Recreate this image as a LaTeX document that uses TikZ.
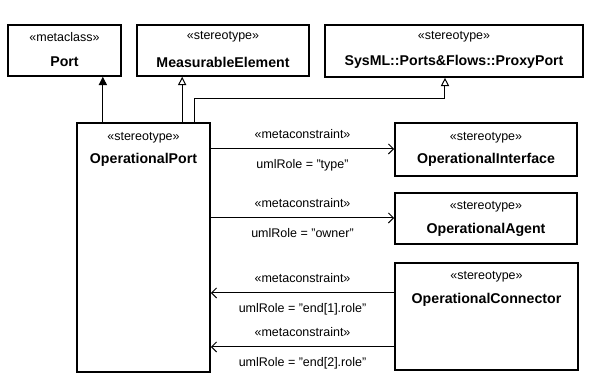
\documentclass[tikz,border=0pt]{standalone}
\usepackage{fontspec}
\setmainfont{Liberation Sans}
\usetikzlibrary{positioning, arrows.meta}

\tikzset{
  classbox/.style={draw, line width=1pt, inner sep=0pt},
  stereo/.style={font=\fontsize{7.5}{8}\selectfont, inner sep=0pt},
  cname/.style={font=\fontsize{8.5}{9}\selectfont\bfseries, inner sep=0pt},
  elabel/.style={font=\fontsize{7.5}{8}\selectfont, inner sep=0pt},
  genopen/.style={draw, line width=0.6pt, -{Triangle[open, length=5pt, width=5pt]}},
  genfill/.style={draw, line width=0.6pt, -{Triangle[length=5pt, width=5pt]}},
  assoc/.style={draw, line width=0.6pt, -{Straight Barb[length=3pt, width=6pt]}}
}

\begin{document}
\begin{tikzpicture}[x=0.6pt, y=-0.6pt]
  \useasboundingbox (0,0) rectangle (597,387);
  % top row
  \node[classbox, minimum width=113*0.6pt, minimum height=51*0.6pt] (port) at (64.5,50.5) {};
  \node[stereo] (portst) at (64.5,37) {«metaclass»};
  \node[cname] (portnm) at (64.5,62) {Port};
  \node[classbox, minimum width=172*0.6pt, minimum height=51*0.6pt] (meas) at (223,50.5) {};
  \node[stereo] (measst) at (223,37) {«stereotype»};
  \node[cname] (measnm) at (223,62) {MeasurableElement};
  \node[classbox, minimum width=258*0.6pt, minimum height=52*0.6pt] (proxy) at (454,51) {};
  \node[stereo] (proxyst) at (454,37) {«stereotype»};
  \node[cname] (proxynm) at (454,62) {SysML::Ports\&Flows::ProxyPort};
  % operational port
  \node[classbox, minimum width=133*0.6pt, minimum height=249*0.6pt] (opport) at (143.5,247.5) {};
  \node[stereo] (opportst) at (143.5,138) {«stereotype»};
  \node[cname] (opportnm) at (143.5,160) {OperationalPort};
  % right column
  \node[classbox, minimum width=182*0.6pt, minimum height=53*0.6pt] (opif) at (486,149.5) {};
  \node[stereo] (opifst) at (486,138) {«stereotype»};
  \node[cname] (opifnm) at (486,160) {OperationalInterface};
  \node[classbox, minimum width=182*0.6pt, minimum height=51*0.6pt] (opag) at (486,218.5) {};
  \node[stereo] (opagst) at (486,207) {«stereotype»};
  \node[cname] (opagnm) at (486,230) {OperationalAgent};
  \node[classbox, minimum width=183*0.6pt, minimum height=107*0.6pt] (opcon) at (486.5,316.5) {};
  \node[stereo] (opconst) at (486.5,277) {«stereotype»};
  \node[cname] (opconnm) at (486.5,300) {OperationalConnector};
  % generalizations
  \draw[genfill] (opport.north -| port.south east) ++(-19,0) coordinate (g1) -- (g1 |- port.south);
  \draw[genopen] (opport.north -| meas.south west) ++(46,0) coordinate (g2) -- (g2 |- meas.south);
  \coordinate (g3) at (195,99);
  \draw[genopen] (g3 |- opport.north) -- (g3) -- (445,99) -- (proxy.south -| 445,0);
  % associations
  \draw[assoc] (opport.east |- 0,149) -- node[elabel, above=6pt] (a1t) {«metaconstraint»}
    node[elabel, below=6pt] (a1b) {umlRole = "type"} (opif.west |- 0,149);
  \draw[assoc] (opport.east |- 0,218) -- node[elabel, above=6pt] (a2t) {«metaconstraint»}
    node[elabel, below=6pt] (a2b) {umlRole = "owner"} (opag.west |- 0,218);
  \draw[assoc] (opcon.west |- 0,293) -- node[elabel, above=6pt] (a3t) {«metaconstraint»}
    node[elabel, below=6pt] (a3b) {umlRole = "end[1].role"} (opport.east |- 0,293);
  \draw[assoc] (opcon.west |- 0,347) -- node[elabel, above=6pt] (a4t) {«metaconstraint»}
    node[elabel, below=6pt] (a4b) {umlRole = "end[2].role"} (opport.east |- 0,347);
\end{tikzpicture}
\end{document}
